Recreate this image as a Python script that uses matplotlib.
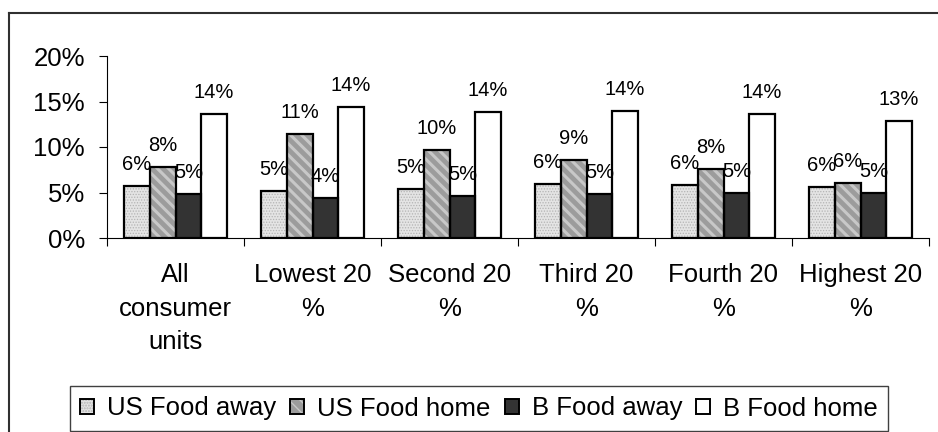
import matplotlib
matplotlib.use("Agg")
import matplotlib.pyplot as plt
from matplotlib.lines import Line2D
from matplotlib.patches import Patch
from matplotlib.legend_handler import HandlerTuple
import numpy as np

plt.rcParams["font.family"] = ["Liberation Sans", "DejaVu Sans"]

# ── data (share of spending, %) ───────────────────────────────────────────────
categories = ["All\nconsumer\nunits", "Lowest 20\n%", "Second 20\n%",
              "Third 20\n%", "Fourth 20\n%", "Highest 20\n%"]
series_names = ["US Food away", "US Food home", "B Food away", "B Food home"]
us_food_away = [5.7, 5.2, 5.4, 5.9, 5.8, 5.6]
us_food_home = [7.8, 11.4, 9.7, 8.6, 7.6, 6.0]
b_food_away = [4.8, 4.4, 4.6, 4.8, 5.0, 4.9]
b_food_home = [13.6, 14.4, 13.8, 14.0, 13.6, 12.9]
yticks = [0, 5, 10, 15, 20]

# fill, hatch, hatch colour, hatch width
STYLES = [
    ("#e4e4e4", "......", "#b4b4b4", 0.6),
    ("#9c9c9c", "\\\\\\", "#c8c8c8", 2.2),
    ("#333333", "", "#333333", 1.0),
    ("#ffffff", "", "#ffffff", 1.0),
]

fig = plt.figure(figsize=(9.38, 4.32), dpi=100)
ax = fig.add_axes([107 / 938, 1 - 238 / 432, 822 / 938, 182 / 432])

x = np.arange(len(categories)) + 0.5
width = 0.1875
offsets = (np.arange(4) - 1.5) * width
all_series = [us_food_away, us_food_home, b_food_away, b_food_home]

handles = []
for vals, off, (fc, hatch, hc, hlw) in zip(all_series, offsets, STYLES):
    plt.rcParams["hatch.linewidth"] = hlw
    ax.bar(x + off, vals, width, color=fc, hatch=hatch, edgecolor=hc,
           linewidth=0, zorder=2)
    ax.bar(x + off, vals, width, facecolor="none", edgecolor="black",
           linewidth=1.6, zorder=3)
    for xi, v in zip(x + off, vals):
        ax.annotate(f"{v:.0f}%", (xi, v), xytext=(0, 11.5),
                    textcoords="offset points", ha="center", va="baseline",
                    fontsize=14.5, zorder=4)
    handles.append((Patch(facecolor=fc, hatch=hatch, edgecolor=hc, linewidth=0),
                    Patch(facecolor="none", edgecolor="black", linewidth=1.4)))

ax.set_xlim(0, len(categories))
ax.set_ylim(0, 20)
ax.set_yticks(yticks)
ax.set_yticklabels([f"{t}%" for t in yticks])
ax.set_xticks(np.arange(len(categories) + 1))
ax.set_xticklabels([])
ax.set_xticks(x, minor=True)
ax.set_xticklabels(categories, minor=True, linespacing=1.5)
ax.tick_params(axis="x", which="major", direction="out", length=6, width=0.8)
ax.tick_params(axis="x", which="minor", length=0, pad=18, labelsize=18.5)
ax.tick_params(axis="y", direction="out", length=6, width=0.8, pad=10,
               labelsize=18.5)
ax.spines[["top", "right"]].set_visible(False)
for s in ("left", "bottom"):
    ax.spines[s].set_linewidth(0.8)

leg = fig.legend(handles, series_names, loc="center",
                 bbox_to_anchor=(479 / 938, 1 - 408.5 / 432),
                 bbox_transform=fig.transFigure, ncol=4, fontsize=18.5,
                 handler_map={tuple: HandlerTuple(ndivide=1, pad=0)},
                 handlelength=0.55, handleheight=0.55, handletextpad=0.5,
                 columnspacing=0.55, borderpad=0.4, borderaxespad=0,
                 fancybox=False, framealpha=1, edgecolor="#404040")
leg.get_frame().set_linewidth(1.0)

# chart-area frame (left and top edges)
x0, y0 = 9 / 938, 1 - 13 / 432
fig.add_artist(Line2D([x0, x0], [0, y0], color="#303030", linewidth=1.5))
fig.add_artist(Line2D([x0, 1], [y0, y0], color="#303030", linewidth=1.5))

fig.savefig("out.png", dpi=100)
